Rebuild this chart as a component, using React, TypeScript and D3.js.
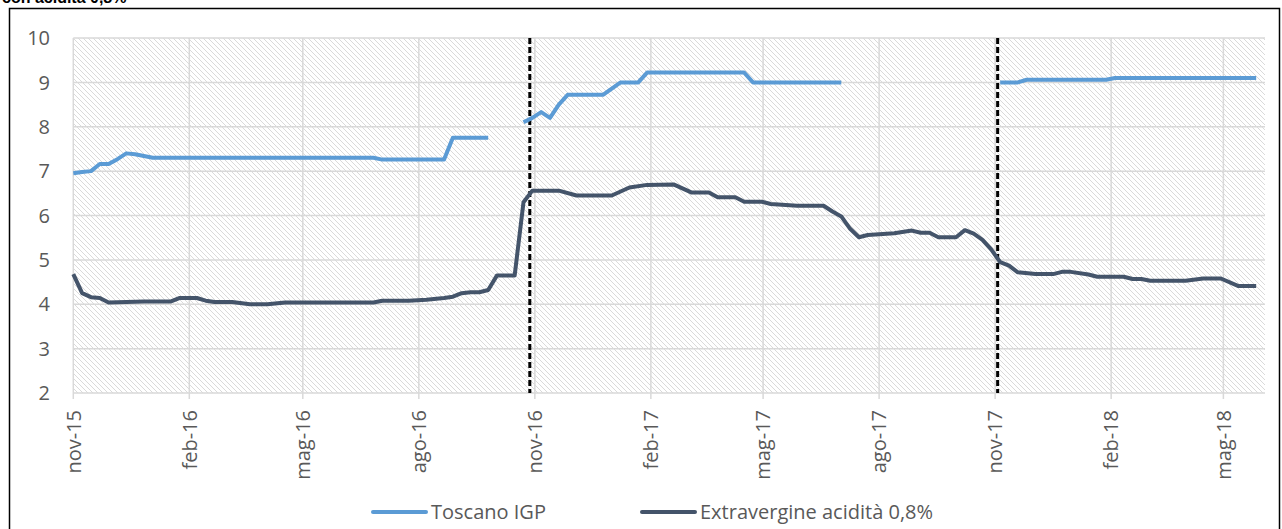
import React from "react";
import * as d3 from "d3";

// ---------- data ----------
const startDate = new Date(2015, 10, 2); // first weekly observation
const endDate = new Date(2018, 5, 4);
const yTicks = [2, 3, 4, 5, 6, 7, 8, 9, 10];
const xTickLabels = ["nov-15", "feb-16", "mag-16", "ago-16", "nov-16", "feb-17", "mag-17", "ago-17", "nov-17", "feb-18", "mag-18"];
const seriesNames = ["Toscano IGP", "Extravergine acidità 0,8%"];
const markerDates = ["2016-10-29", "2017-11-04"];

// week index since startDate, value (null = gap)
const toscanoWeeks = [0, 1, 2, 3, 4, 5, 6, 7, 8, 9, 34, 35, 42, 43, 47, 48, 51, 52, 53, 54, 55, 56, 60, 62, 64, 65, 76, 77, 87, 88, 105, 107, 108, 117, 118, 134];
const toscanoValues = [6.95, 6.98, 7.0, 7.16, 7.16, 7.27, 7.4, 7.38, 7.34, 7.3, 7.3, 7.26, 7.26, 7.75, 7.75, null, 8.1, 8.2, 8.33, 8.2, 8.5, 8.72, 8.72, 9.0, 9.0, 9.22, 9.22, 9.0, 9.0, null, 9.0, 9.0, 9.06, 9.06, 9.1, 9.1];

const extraWeeks = [0, 1, 2, 3, 4, 6, 8, 11, 12, 14, 15, 16, 18, 20, 22, 24, 34, 35, 38, 40, 42, 43, 44, 45, 46, 47, 48, 50, 51, 52, 55, 57, 61, 62, 63, 65, 68, 70, 72, 73, 75, 76, 78, 79, 82, 85, 86, 87, 88, 89, 90, 93, 95, 96, 97, 98, 100, 101, 102, 103, 104, 105, 106, 107, 109, 111, 112, 113, 115, 116, 119, 120, 121, 122, 126, 128, 130, 132, 134];
const extraValues = [4.68, 4.25, 4.16, 4.14, 4.04, 4.05, 4.06, 4.06, 4.14, 4.14, 4.08, 4.05, 4.05, 4.0, 4.0, 4.04, 4.04, 4.08, 4.08, 4.1, 4.14, 4.17, 4.25, 4.27, 4.27, 4.32, 4.65, 4.65, 6.3, 6.56, 6.56, 6.45, 6.45, 6.54, 6.63, 6.69, 6.7, 6.52, 6.52, 6.41, 6.41, 6.31, 6.31, 6.26, 6.22, 6.22, 6.09, 5.98, 5.7, 5.51, 5.56, 5.6, 5.66, 5.61, 5.61, 5.51, 5.51, 5.67, 5.59, 5.45, 5.23, 4.95, 4.87, 4.72, 4.68, 4.68, 4.73, 4.73, 4.67, 4.62, 4.62, 4.57, 4.57, 4.53, 4.53, 4.58, 4.58, 4.41, 4.41];

const colors = ["#5B9BD5", "#44546A"];

// ---------- layout ----------
const W = 1282;
const H = 529;
const plot = { left: 73.3, right: 1265, top: 38, bottom: 393 };
const FONT = "'Open Sans', Lato, sans-serif";
const TEXT = "#595959";
const FS = 20;

type Pt = { date: Date; value: number | null };

function buildSeries(weeks: number[], values: (number | null)[]): Pt[] {
  return weeks.map((w, i) => ({ date: d3.timeDay.offset(startDate, w * 7), value: values[i] }));
}

export default function App() {
  const x = d3.scaleTime().domain([startDate, endDate]).range([plot.left, plot.right]);
  const y = d3.scaleLinear().domain([2, 10]).range([plot.bottom, plot.top]);
  const tickDates = xTickLabels.map((_, i) => d3.timeMonth.offset(startDate, i * 3));

  const line = d3
    .line<Pt>()
    .defined((d) => d.value !== null)
    .x((d) => x(d.date))
    .y((d) => y(d.value as number));

  const series = [buildSeries(toscanoWeeks, toscanoValues), buildSeries(extraWeeks, extraValues)];
  const markers = markerDates.map((s) => d3.timeParse("%Y-%m-%d")(s) as Date);

  const legendY = 512;
  const legendItems = [
    { x1: 373, x2: 426 },
    { x1: 642, x2: 695 },
  ];

  return (
    <svg
      width={W}
      height={H}
      style={{ position: "absolute", left: 0, top: 0, background: "#fff" }}
      fontFamily={FONT}
    >
      <defs>
        <pattern id="hatch" patternUnits="userSpaceOnUse" width={5} height={5}>
          <rect width={5} height={5} fill="#ffffff" />
          <path d="M-1,4 l2,2 M0,0 l5,5 M4,-1 l2,2" stroke="#dadada" strokeWidth={1} />
        </pattern>
      </defs>

      {/* cut-off title */}
      <text x={2} y={3} fontSize={16} fontWeight="bold" fill="#000" fontFamily="'Liberation Sans', Arial, sans-serif">
        con acidità 0,8%
      </text>

      {/* outer frame */}
      <rect x={9.5} y={8.5} width={1270} height={540} fill="#fff" stroke="#000" strokeWidth={1.5} />

      {/* plot background */}
      <rect
        x={plot.left}
        y={plot.top}
        width={plot.right - plot.left}
        height={plot.bottom - plot.top}
        fill="url(#hatch)"
      />

      {/* horizontal grid */}
      {yTicks.map((t) => (
        <line key={"h" + t} x1={plot.left} x2={plot.right} y1={y(t)} y2={y(t)} stroke="#d9d9d9" strokeWidth={1.5} />
      ))}
      {/* vertical grid */}
      {tickDates.map((d, i) => (
        <line key={"v" + i} x1={x(d)} x2={x(d)} y1={plot.top} y2={plot.bottom + 6} stroke="#d9d9d9" strokeWidth={1.5} />
      ))}

      {/* y labels */}
      {yTicks.map((t) => (
        <text key={"yl" + t} x={50} y={y(t)} dy="0.36em" textAnchor="end" fontSize={FS} fill={TEXT}>
          {t}
        </text>
      ))}

      {/* x labels */}
      {tickDates.map((d, i) => (
        <text
          key={"xl" + i}
          transform={`translate(${x(d)},${410}) rotate(-90)`}
          dy="0.36em"
          textAnchor="end"
          fontSize={FS}
          fill={TEXT}
        >
          {xTickLabels[i]}
        </text>
      ))}

      {/* dashed markers */}
      {markers.map((d, i) => (
        <line
          key={"m" + i}
          x1={x(d)}
          x2={x(d)}
          y1={plot.top}
          y2={plot.bottom}
          stroke="#000"
          strokeWidth={3}
          strokeDasharray="6,3"
        />
      ))}

      {/* series */}
      {series.map((s, i) => (
        <path
          key={"s" + i}
          d={line(s) || ""}
          fill="none"
          stroke={colors[i]}
          strokeWidth={4}
          strokeLinejoin="round"
          strokeLinecap="butt"
        />
      ))}

      {/* legend */}
      {legendItems.map((it, i) => (
        <g key={"lg" + i}>
          <line x1={it.x1} x2={it.x2} y1={legendY} y2={legendY} stroke={colors[i]} strokeWidth={4} strokeLinecap="round" />
          <text x={it.x2 + 5} y={legendY} dy="0.36em" fontSize={FS} fill={TEXT}>
            {seriesNames[i]}
          </text>
        </g>
      ))}
    </svg>
  );
}
